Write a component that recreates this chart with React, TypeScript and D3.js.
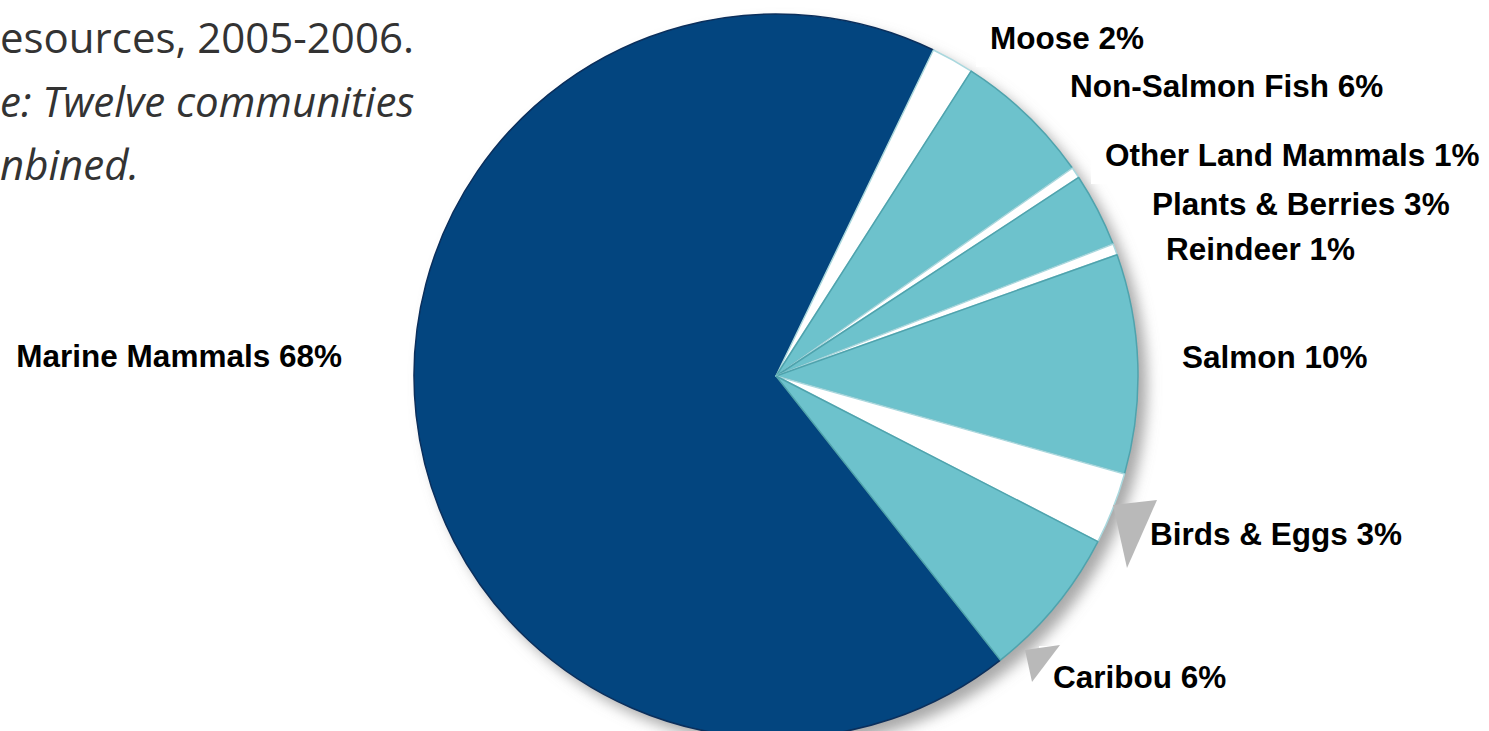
import React from "react";
import * as d3 from "d3";

// ---------- data ----------
const categories = [
  "Marine Mammals",
  "Moose",
  "Non-Salmon Fish",
  "Other Land Mammals",
  "Plants & Berries",
  "Reindeer",
  "Salmon",
  "Birds & Eggs",
  "Caribou",
];
const shareLabels = ["68%", "2%", "6%", "1%", "3%", "1%", "10%", "3%", "6%"];
// slice sizes as drawn in the picture (percent of the circle)
const sliceShares = [67.8, 1.9, 6.2, 0.5, 3.3, 0.5, 9.8, 3.2, 6.8];
const subtitleLines = ["esources, 2005-2006.", "e: Twelve communities", "nbined."];

// ---------- layout / style ----------
const W = 1489;
const H = 731;
const CX = 776;
const CY = 376;
const R = 362;
const START_DEG = 141.7;

const DARK = "#03457f";
const TEAL = "#6dc2cc";
const WHITE = "#ffffff";
const sliceColors = [DARK, WHITE, TEAL, WHITE, TEAL, WHITE, TEAL, WHITE, TEAL];
const sliceStrokes = ["#0b2f5c", "#a9d8de", "#4fa3ad", "#a9d8de", "#4fa3ad", "#a9d8de", "#4fa3ad", "#a9d8de", "#4fa3ad"];

const LABEL_FONT = 31.5;
const labelLayout = [
  { x: 342, y: 367, anchor: "end" },
  { x: 990, y: 49, anchor: "start" },
  { x: 1070, y: 97, anchor: "start" },
  { x: 1105, y: 166, anchor: "start" },
  { x: 1152, y: 215, anchor: "start" },
  { x: 1166, y: 260, anchor: "start" },
  { x: 1182, y: 368, anchor: "start" },
  { x: 1150, y: 545, anchor: "start" },
  { x: 1053, y: 688, anchor: "start" },
];
// which labels carry a callout pointer
const pointerFor = new Set(["Birds & Eggs", "Caribou"]);

export default function App() {
  const data = categories.map((c, i) => ({ name: c, share: sliceShares[i], label: shareLabels[i], i }));
  const pie = d3
    .pie<any>()
    .sort(null)
    .value((d) => d.share)
    .startAngle((START_DEG * Math.PI) / 180)
    .endAngle((START_DEG * Math.PI) / 180 + 2 * Math.PI);
  const arcs = pie(data);
  const arc = d3.arc<any>().innerRadius(0).outerRadius(R);

  const measure = (t: string) => t.length * LABEL_FONT * 0.58;

  return (
    <svg
      width={W}
      height={H}
      viewBox={`0 0 ${W} ${H}`}
      style={{ position: "absolute", left: 0, top: 0, background: "#fff" }}
    >
      <defs>
        <filter id="shadowBlur" x="-20%" y="-20%" width="140%" height="140%">
          <feGaussianBlur stdDeviation="7" />
        </filter>
      </defs>
      <rect x={0} y={0} width={W} height={H} fill="#fff" />

      {/* subtitle (cropped at left edge in original) */}
      <g fill="#333" fontFamily="'Open Sans', 'DejaVu Sans', sans-serif" fontSize={42}>
        <text x={0} y={53}>{subtitleLines[0]}</text>
        <text x={0} y={117} fontStyle="italic">{subtitleLines[1]}</text>
        <text x={0} y={180} fontStyle="italic">{subtitleLines[2]}</text>
      </g>

      {/* shadow */}
      <g transform={`translate(${CX + 9},${CY + 9})`} filter="url(#shadowBlur)">
        <circle r={R} fill="#8c8c8c" opacity={0.75} />
      </g>

      {/* label white backings (cover the shadow like in the original) */}
      {data.map((d, i) => {
        const L = labelLayout[i];
        const text = `${d.name} ${d.label}`;
        const w = measure(text);
        const x0 = L.anchor === "end" ? L.x - w - 10 : L.x - 14;
        return <rect key={"bk" + i} x={x0} y={L.y - 42} width={w + 24} height={60} fill="#fff" />;
      })}

      {/* pie */}
      <g transform={`translate(${CX},${CY})`}>
        {arcs.map((a, i) => (
          <path
            key={i}
            d={arc(a) as string}
            fill={sliceColors[i]}
            stroke={sliceStrokes[i]}
            strokeWidth={1.5}
            strokeLinejoin="round"
          />
        ))}
      </g>

      {/* callout pointers */}
      {data.map((d, i) => {
        if (!pointerFor.has(d.name)) return null;
        const L = labelLayout[i];
        const pts =
          d.name === "Birds & Eggs"
            ? [[L.x - 37, L.y - 40], [L.x + 7, L.y - 45], [L.x - 23, L.y + 23]]
            : [[L.x - 28, L.y - 38], [L.x + 7, L.y - 43], [L.x - 21, L.y - 6]];
        return <polygon key={"p" + i} points={pts.map((p) => p.join(",")).join(" ")} fill="#b9b9b9" />;
      })}

      {/* labels */}
      <g fontFamily="'Liberation Sans', Arial, sans-serif" fontWeight="bold" fontSize={LABEL_FONT} fill="#000">
        {data.map((d, i) => {
          const L = labelLayout[i];
          return (
            <text key={"t" + i} x={L.x} y={L.y} textAnchor={L.anchor as any}>
              {`${d.name} ${d.label}`}
            </text>
          );
        })}
      </g>
    </svg>
  );
}
